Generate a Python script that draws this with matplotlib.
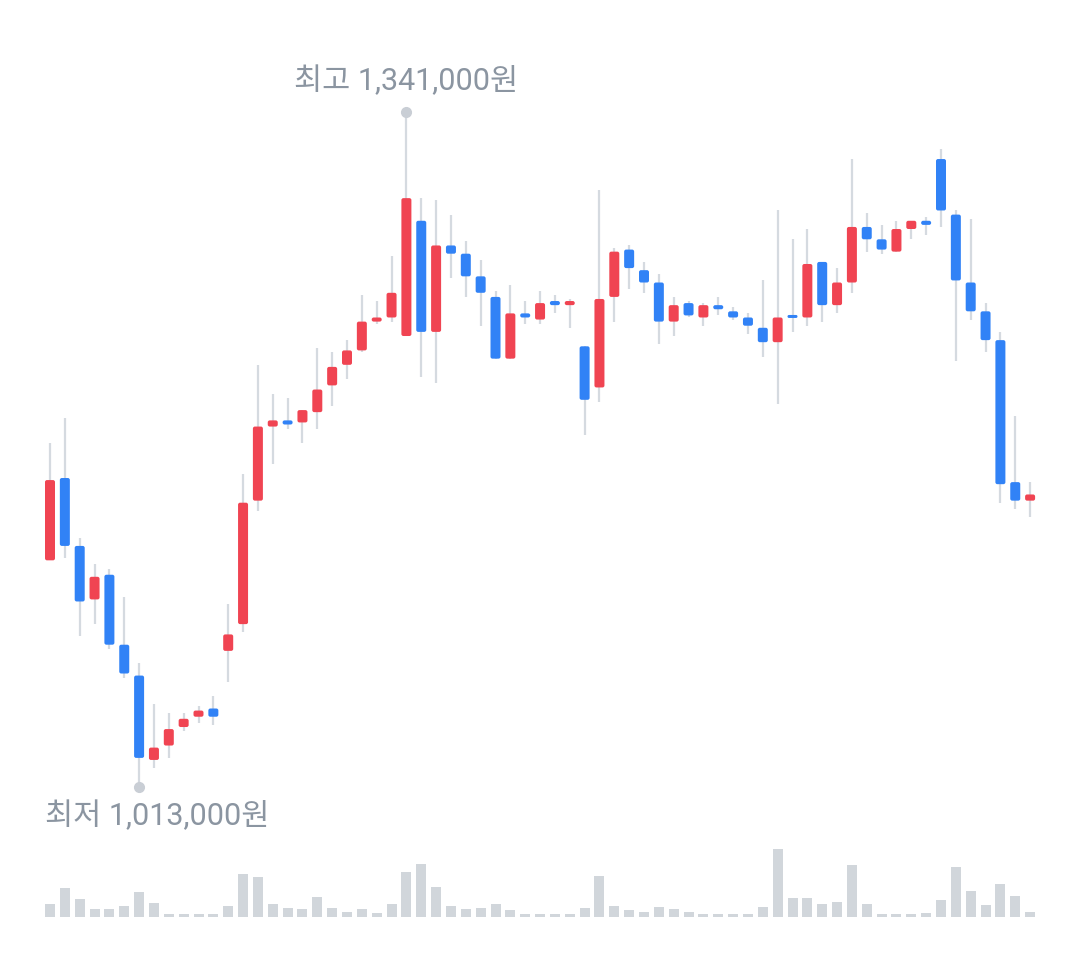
import numpy as np
import matplotlib.pyplot as plt
from matplotlib.patches import FancyBboxPatch

plt.rcParams['font.family'] = ['Roboto', 'Noto Sans CJK KR', 'DejaVu Sans']

# daily prices in won
opens = [1123, 1163, 1130, 1104, 1116, 1082, 1067, 1026, 1033, 1042,
         1047, 1051, 1079, 1092, 1152, 1188, 1191, 1190, 1195, 1208,
         1218, 1225, 1239, 1241, 1232, 1288, 1234, 1276, 1272, 1261,
         1251, 1221, 1243, 1240, 1249, 1247, 1227, 1207, 1251, 1274,
         1264, 1258, 1239, 1248, 1241, 1247, 1244, 1241, 1236, 1229,
         1242, 1241, 1268, 1247, 1258, 1285, 1279, 1273, 1284, 1288,
         1318, 1291, 1258, 1244, 1230, 1161, 1152]
closes = [1162, 1130, 1103, 1115, 1082, 1068, 1027, 1032, 1041, 1046,
          1050, 1047, 1087, 1151, 1188, 1191, 1189, 1196, 1206, 1217,
          1225, 1239, 1241, 1253, 1299, 1234, 1276, 1272, 1261, 1253,
          1221, 1243, 1241, 1248, 1247, 1249, 1201, 1250, 1273, 1265,
          1258, 1239, 1247, 1242, 1247, 1245, 1241, 1237, 1229, 1241,
          1241, 1267, 1247, 1258, 1285, 1279, 1274, 1284, 1288, 1286,
          1293, 1259, 1244, 1230, 1160, 1152, 1155]
highs = [1180, 1192, 1134, 1121, 1119, 1105, 1073, 1053, 1049, 1049,
         1052, 1057, 1102, 1165, 1218, 1204, 1202, 1196, 1226, 1224,
         1230, 1252, 1249, 1271, 1341, 1299, 1298, 1291, 1278, 1269,
         1254, 1257, 1249, 1254, 1252, 1250, 1227, 1303, 1275, 1276,
         1268, 1262, 1251, 1249, 1248, 1251, 1246, 1243, 1259, 1293,
         1279, 1284, 1268, 1265, 1318, 1292, 1286, 1288, 1288, 1290,
         1323, 1293, 1289, 1248, 1234, 1193, 1161]
lows = [1123, 1124, 1086, 1092, 1080, 1066, 1013, 1022, 1027, 1040,
        1044, 1043, 1064, 1088, 1147, 1170, 1187, 1180, 1187, 1198,
        1211, 1224, 1238, 1239, 1232, 1212, 1209, 1260, 1251, 1237,
        1221, 1221, 1238, 1238, 1243, 1236, 1184, 1200, 1239, 1255,
        1253, 1228, 1232, 1241, 1237, 1242, 1240, 1233, 1222, 1199,
        1234, 1237, 1239, 1243, 1253, 1273, 1272, 1273, 1279, 1281,
        1285, 1220, 1240, 1224, 1151, 1148, 1144]
# relative traded volume
volumes = [12.7, 29, 18, 7.7, 8, 11, 25, 13.7, 3, 3,
           3, 3, 11, 43, 40, 12.7, 8.7, 7.3, 20, 8.3,
           4.7, 8, 4, 12.7, 44.7, 53, 30, 11, 8, 9,
           12.7, 7, 3, 3, 3, 3, 8.7, 41, 11, 6.3,
           4.7, 9.3, 8, 4.7, 3, 3, 3, 3, 10, 67.7,
           18.3, 18.7, 12.3, 14.3, 51.7, 12.3, 3, 3, 3, 4,
           17, 50, 26, 12, 32.3, 20.7, 5]

opens = np.array(opens) * 1000
closes = np.array(closes) * 1000
highs = np.array(highs) * 1000
lows = np.array(lows) * 1000

RED = '#F04452'
BLUE = '#3182F6'
WICK = '#D5DAE0'
TEXT = '#8B95A1'

W, H = 1080, 963
fig = plt.figure(figsize=(W / 100, H / 100), dpi=100)

# pixel geometry of the price panel
step = 14.85          # px between candles
x0 = 50               # px of first candle
px_per_won = 675 / 328000
ax = fig.add_axes([0, 0, 1, 1])
ax.set_xlim(-x0 / step, (W - x0) / step)
top_price = 1341000 + 111.7 / px_per_won
ax.set_ylim(top_price - H / px_per_won, top_price)
ax.axis('off')

n = len(opens)
xs = np.arange(n)
body_w = 10 / step
aspect = (1 / px_per_won) / (1 / step)   # y data units per x data unit, per px

for i in range(n):
    up = closes[i] >= opens[i]
    color = RED if up else BLUE
    ax.vlines(xs[i], lows[i], highs[i], color=WICK, lw=1.6, zorder=1)
    lo = min(opens[i], closes[i])
    h = abs(closes[i] - opens[i])
    min_h = 3 / px_per_won
    if h < min_h:
        lo -= (min_h - h) / 2
        h = min_h
    r_px = min(2.0, h * px_per_won / 2)
    box = FancyBboxPatch((xs[i] - body_w / 2, lo), body_w, h,
                         boxstyle=f"round,pad=0,rounding_size={r_px / step}",
                         mutation_aspect=aspect, fc=color, ec='none', zorder=2)
    ax.add_patch(box)

# high / low markers
hi = int(np.argmax(highs))
lo_i = int(np.argmin(lows))
ax.plot(xs[hi], highs[hi], 'o', ms=7, color='#C9CED5', zorder=3)
ax.plot(xs[lo_i], lows[lo_i], 'o', ms=7, color='#C9CED5', zorder=3)
ax.text(xs[hi], highs[hi] + 31 / px_per_won, f"최고 {highs[hi]:,.0f}원",
        ha='center', va='center', fontsize=22, color=TEXT)
ax.text(xs[0] - body_w / 2, lows[lo_i] - 29 / px_per_won, f"최저 {lows[lo_i]:,.0f}원",
        ha='left', va='center', fontsize=22, color=TEXT)

# volume panel
base_px = 916.7
vax = fig.add_axes([0, (H - base_px) / H, 1, 100 / H])
vax.set_xlim(ax.get_xlim())
vax.set_ylim(0, 100)
vax.bar(xs, volumes, width=body_w, color='#D1D6DB')
vax.axis('off')

fig.savefig('out.png', dpi=100, facecolor='white')
